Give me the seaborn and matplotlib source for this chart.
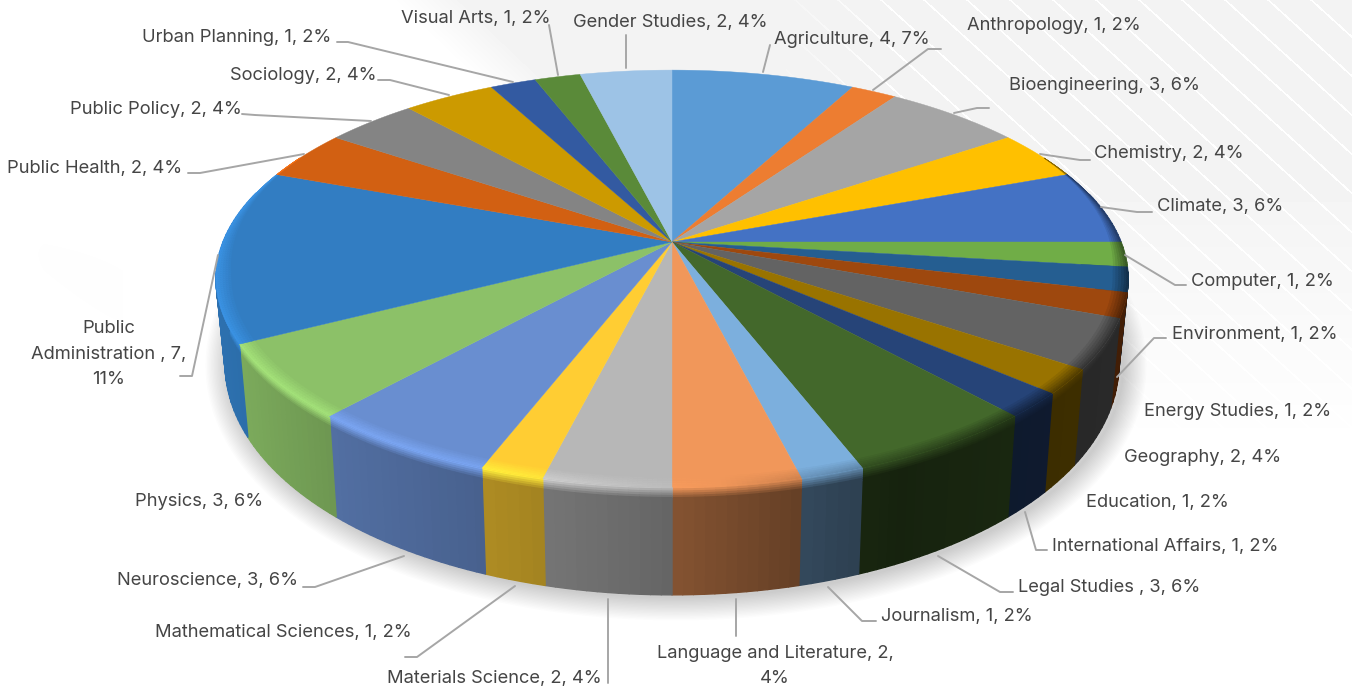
import numpy as np
import seaborn as sns
import matplotlib.pyplot as plt
from matplotlib.collections import PolyCollection

sns.set_theme(style='white')
plt.rcParams['font.family'] = ['Inter', 'DejaVu Sans']

# clockwise from 12 o'clock
subjects = ['Agriculture', 'Anthropology', 'Bioengineering', 'Chemistry', 'Climate', 'Computer',
            'Environment', 'Energy Studies', 'Geography', 'Education', 'International Affairs',
            'Legal Studies', 'Journalism', 'Language and Literature', 'Materials Science',
            'Mathematical Sciences', 'Neuroscience', 'Physics', 'Public Administration',
            'Public Health', 'Public Policy', 'Sociology', 'Urban Planning', 'Visual Arts',
            'Gender Studies']
counts = [4, 1, 3, 2, 3, 1, 1, 1, 2, 1, 1, 3, 1, 2, 2, 1, 3, 3, 7, 2, 2, 2, 1, 1, 2]
colors = ['#5B9BD5', '#ED7D31', '#A5A5A5', '#FFC000', '#4472C4', '#70AD47', '#255E91', '#9E480E',
          '#636363', '#997300', '#264478', '#43682B', '#7CAFDD', '#F1975A', '#B7B7B7', '#FFCD33',
          '#698ED0', '#8CC168', '#327DC2', '#D26012', '#848484', '#CC9A00', '#335AA1', '#5A8A39',
          '#9DC3E6']

labels = ['Agriculture, 4, 7%', 'Anthropology, 1, 2%', 'Bioengineering, 3, 6%', 'Chemistry, 2, 4%',
          'Climate, 3, 6%', 'Computer, 1, 2%', 'Environment, 1, 2%', 'Energy Studies, 1, 2%',
          'Geography, 2, 4%', 'Education, 1, 2%', 'International Affairs, 1, 2%', 'Legal Studies , 3, 6%',
          'Journalism, 1, 2%', 'Language and Literature, 2,\n4%', 'Materials Science, 2, 4%',
          'Mathematical Sciences, 1, 2%', 'Neuroscience, 3, 6%', 'Physics, 3, 6%',
          'Public\nAdministration , 7,\n11%', 'Public Health, 2, 4%', 'Public Policy, 2, 4%',
          'Sociology, 2, 4%', 'Urban Planning, 1, 2%', 'Visual Arts, 1, 2%', 'Gender Studies, 2, 4%']
label_x = [774, 967, 1009, 1094, 1157, 1191, 1172, 1144, 1124, 1086, 1052, 1018, 881, 775, 387,
           155, 117, 135, 109, 7, 70, 230, 142, 401, 573]
label_y = [39, 26, 85, 154, 206, 281, 334, 411, 458, 502, 546, 587, 617, 666, 678,
           633, 581, 502, 354, 169, 109, 75, 37, 19, 23]
leaders = [[(763, 72), (770, 45)], [(873, 90), (928, 49), (941, 49)], [(954, 113), (977, 108), (989, 108)],
           [(1040, 154), (1080, 160), (1090, 160)], [(1101, 207), (1137, 212), (1152, 212)],
           [(1125, 255), (1175, 285), (1186, 285)], [(1117, 377), (1154, 338), (1166, 338)],
           None, None, None, [(1025, 512), (1036, 550), (1047, 550)], [(938, 556), (1000, 592), (1013, 592)],
           [(828, 587), (862, 621), (876, 621)], [(736, 599), (736, 636)], [(608, 599), (608, 683)],
           [(515, 586), (417, 657), (405, 657)], [(404, 556), (315, 587), (303, 587)], None,
           [(218, 255), (192, 376), (180, 376)], [(304, 154), (200, 173), (188, 173)],
           [(371, 121), (255, 115), (242, 114)], [(449, 95), (390, 80), (378, 80)],
           [(513, 82), (348, 42), (337, 42)], [(558, 75), (549, 25)], [(626, 68), (626, 35)]]

# pie projection
cx, cy, rx, ry, persp = 672, 242, 449, 202, -0.175


def top_xy(t, r=1.0):
    u, v = r * np.sin(t), -r * np.cos(t)
    d = 1 + persp * v
    return cx + rx * u / d, cy + ry * v / d


def side_xy(t, frac):
    x, y = top_xy(t)
    v = -np.cos(t)
    return cx + (x - cx) * (1 - 0.02 * frac), y + (80 + 28 * v) * frac


def side_shade(x):
    return np.interp(x, [216, 240, 330, 500, 600, 672, 800, 900, 1000, 1130],
                     [0.9, 0.88, 0.78, 0.67, 0.6, 0.55, 0.42, 0.33, 0.37, 0.42])


def rim_shade(x):
    return np.interp(x, [216, 500, 640, 720, 860, 1000, 1130], [1.18, 1.16, 1.05, 1.0, 0.75, 0.55, 0.5])


fig, ax = plt.subplots(figsize=(13.52, 6.90), dpi=100)
fig.subplots_adjust(0, 0, 1, 1)
ax.set_xlim(0, 1352)
ax.set_ylim(690, 0)
ax.axis('off')

# background sheen with diagonal stripes
gx, gy = np.meshgrid(np.arange(1352), np.arange(690))
fade = np.clip((450 - gy) / 260, 0, 1) * np.clip((gx - 390 - gy * 1.05) / 70, 0, 1)
stripe = np.clip((gx - 780) / 120, 0, 1) * (((gx - gy * 1.1 - 20) % 43) < 2.6)
bg = 1 - fade * 0.045 * (1 - stripe)
low = np.clip((gx + 260 - gy) / 60, 0, 1) * np.clip((220 - gx) / 200, 0, 1) * np.clip((gy - 210) / 60, 0, 1) * np.clip((430 - gy) / 80, 0, 1)
bg = bg - low * 0.008
ax.imshow(bg, cmap='gray', vmin=0, vmax=1, extent=(0, 1352, 690, 0), aspect='auto', zorder=0)

pal = sns.color_palette(colors)
edges = np.cumsum([0] + counts) / sum(counts) * 2 * np.pi

# soft shadow under the pie
ts = np.linspace(0, 2 * np.pi, 361)
sx, sy = side_xy(ts, 1)
for w in range(2, 36, 2):
    ax.fill(sx + 4, sy + 2, fc='none', ec='black', lw=w, alpha=0.011, zorder=1, joinstyle='round')

# walls and rim bevel
side_levels = [0, 0.02, 0.04, 0.06, 0.08, 0.10, 0.12, 1]
top_levels = [0.968, 0.974, 0.98, 0.986, 0.992, 0.997, 1.0]
for i, col in enumerate(pal):
    col = np.array(col)
    n = max(3, int(np.degrees(edges[i + 1] - edges[i])))
    ang = np.linspace(edges[i], edges[i + 1], n)
    polys, cols = [], []
    for k, (f0, f1) in enumerate(zip(side_levels[:-1], side_levels[1:])):
        for a, b in zip(ang[:-1], ang[1:]):
            mid = (a + b) / 2
            if -np.cos(mid) < -0.25:
                continue
            xm = top_xy(mid)[0]
            body = col * side_shade(xm)
            rim = np.clip(col * rim_shade(xm), 0, 1)
            x0, y0 = side_xy(a, f0)
            x1, y1 = side_xy(b, f0)
            x2, y2 = side_xy(b, f1)
            x3, y3 = side_xy(a, f1)
            polys.append([(x0, y0), (x1, y1), (x2, y2), (x3, y3)])
            m = min(k / 5, 1)
            cols.append(rim * (1 - m) + body * m)
    ax.add_collection(PolyCollection(polys, facecolors=cols, edgecolors=cols, linewidths=1.0, zorder=2))

# top face
for i, col in enumerate(pal):
    n = max(3, int(np.degrees(edges[i + 1] - edges[i]) * 2))
    ang = np.linspace(edges[i], edges[i + 1], n)
    x, y = top_xy(ang)
    ax.fill(np.r_[cx, x], np.r_[cy, y], color=col, lw=0.3, zorder=3)
    col = np.array(col)
    polys, cols = [], []
    for k, (r0, r1) in enumerate(zip(top_levels[:-1], top_levels[1:])):
        for a, b in zip(ang[:-1], ang[1:]):
            mid = (a + b) / 2
            v = -np.cos(mid)
            if v < -0.45:
                continue
            xm = top_xy(mid)[0]
            rim = np.clip(col * rim_shade(xm), 0, 1)
            wide = np.clip((v + 0.45) / 0.6, 0, 1)
            q0, q1 = 1 - (1 - r0) * wide, 1 - (1 - r1) * wide
            polys.append([top_xy(a, q0), top_xy(b, q0), top_xy(b, q1), top_xy(a, q1)])
            m = (k + 1) / 6
            cols.append(col * (1 - m) + rim * m)
    if polys:
        ax.add_collection(PolyCollection(polys, facecolors=cols, edgecolors=cols, linewidths=0.3, zorder=4))

# data labels
for name, x, y, line in zip(labels, label_x, label_y, leaders):
    multi = '\n' in name
    ax.text(x, y, name, ha='center' if multi else 'left', va='center', fontsize=13.2,
            color='#454545', linespacing=1.66, zorder=6)
    if line is not None:
        ax.plot([p[0] for p in line], [p[1] for p in line], color='#A6A6A6', lw=1.4, zorder=5)

fig.savefig('out.png', dpi=100)
